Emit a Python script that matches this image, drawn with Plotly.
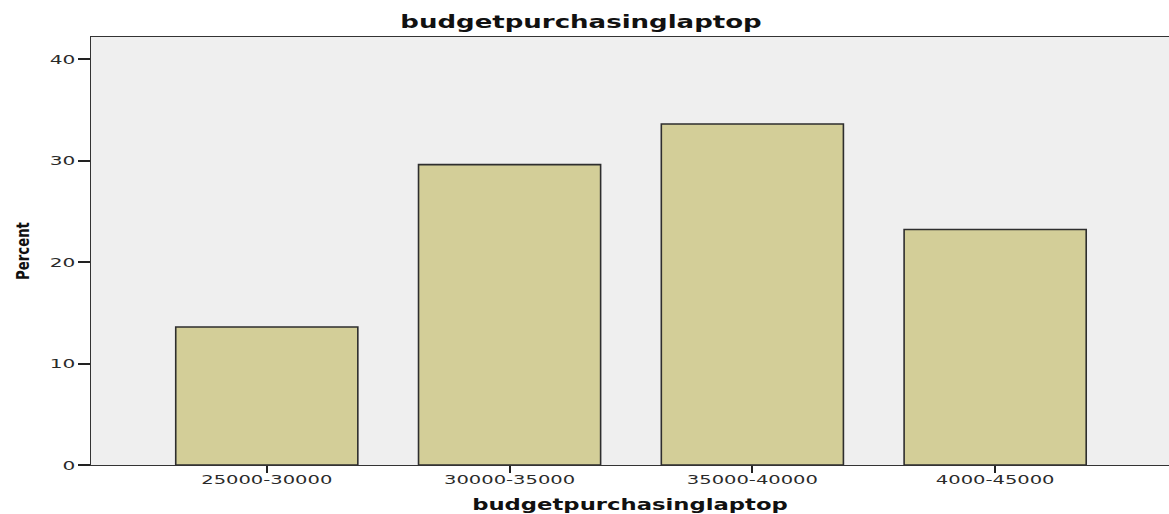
import plotly.graph_objects as go

categories = ["25000-30000", "30000-35000", "35000-40000", "4000-45000"]
percent = [13.6, 29.6, 33.6, 23.2]
y_ticks = [0, 10, 20, 30, 40]

title_text = "budgetpurchasinglaptop"

fig = go.Figure()
fig.add_trace(go.Bar(
    x=list(range(len(categories))),
    y=percent,
    marker=dict(color="#d3ce98", line=dict(color="#2e2e2e", width=1.6)),
    width=0.75,
    hoverinfo="skip",
))

font_main = "DejaVu Sans, Arial, sans-serif"

fig.update_layout(
    width=1169, height=514,
    margin=dict(l=91, r=0, t=37, b=49, pad=0),
    paper_bgcolor="white",
    plot_bgcolor="#efefef",
    showlegend=False,
    font=dict(family=font_main, color="#222222"),
    title=dict(
        text="<b>" + title_text + "</b>",
        x=0.497, xref="container", xanchor="center",
        y=1 - 22 / 514, yref="container", yanchor="middle",
        font=dict(size=17, family=font_main, color="#111111"),
    ),
    xaxis=dict(
        range=[-0.724, 3.716],
        tickmode="array",
        tickvals=list(range(len(categories))),
        ticktext=categories,
        ticks="outside", ticklen=7, tickwidth=1.5, tickcolor="#222",
        ticklabelstandoff=-5,
        showline=True, linecolor="#333", linewidth=1.3, mirror=True,
        showgrid=False, zeroline=False,
        tickfont=dict(size=13, color="#2a2a2a"),
        title=dict(text="<b>" + title_text + "</b>", standoff=13,
                   font=dict(size=16, color="#111")),
    ),
    yaxis=dict(
        range=[0, 42.17],
        tickmode="array", tickvals=y_ticks,
        ticks="outside", ticklen=12, tickwidth=1.5, tickcolor="#222",
        showline=True, linecolor="#333", linewidth=1.3, mirror=True,
        showgrid=False, zeroline=False,
        tickfont=dict(size=13, color="#2a2a2a"),
        title=dict(text="<b>Percent</b>", standoff=24,
                   font=dict(size=17, color="#111")),
    ),
)

post = """
document.body.style.margin = '0';
document.body.style.padding = '0';
var gd = document.getElementById('{plot_id}');
function stretch(sel, factor) {
  gd.querySelectorAll(sel).forEach(function(t){
    var w = t.getComputedTextLength();
    if (w > 0) {
      t.setAttribute('textLength', (w * factor).toFixed(1));
      t.setAttribute('lengthAdjust', 'spacingAndGlyphs');
    }
  });
}
stretch('.gtitle', 1.53);
stretch('.xtitle', 1.42);
stretch('.xtick text', 1.5);
stretch('.ytick text', 1.55);
stretch('.ytitle', 0.78);
"""

fig.write_html("out.html", post_script=post, config={"displayModeBar": False})
